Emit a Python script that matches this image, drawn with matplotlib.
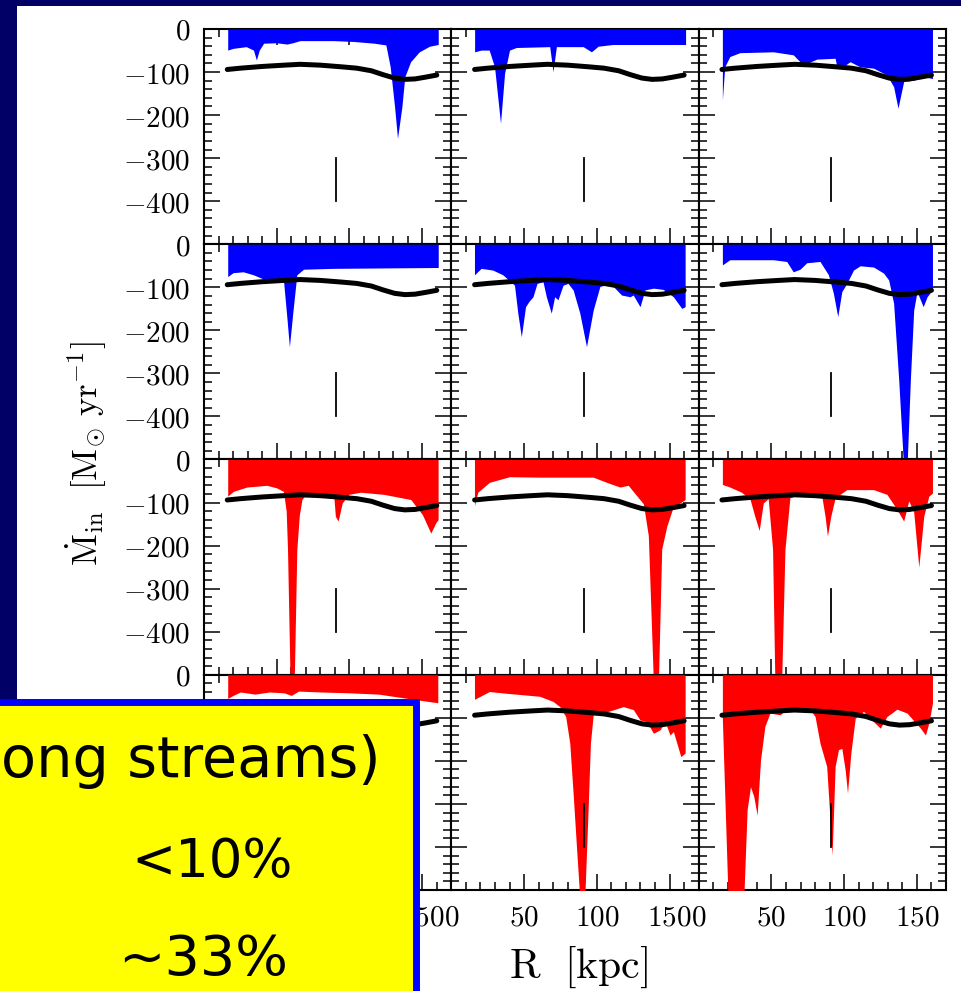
import matplotlib.pyplot as plt
from matplotlib.patches import Rectangle
from matplotlib.ticker import MultipleLocator, FuncFormatter

plt.rcParams["mathtext.fontset"] = "cm"

# =========================
# Inflow rate profiles, M_dot_in [Msun/yr] vs R [kpc]
# =========================
# mean profile shared by every panel
r_mean = [16, 25, 40, 55, 66, 80, 95, 105, 115, 123, 131, 138, 145, 152, 160]
m_mean = [-94, -91, -87, -84, -82, -84, -88, -91, -97, -106, -114, -117, -116, -112, -107]

r_vir_mark = 91  # short vertical marker

# row 1
r11 = [16.3, 20, 29, 34, 36, 38, 41, 50, 57, 61, 66, 89, 103, 117, 125, 128, 131, 133, 136, 138, 142, 148, 155, 161]
m11 = [-49, -45, -41, -49, -72, -49, -33, -32, -35, -32, -27, -27, -29, -33, -37, -88, -181, -254, -181, -111, -76, -53, -40, -36]
r12 = [16, 20.5, 26, 29.7, 33.8, 36.6, 40, 44.6, 67.6, 69.9, 72.2, 90.6, 96.3, 100.9, 111, 161]
m12 = [-53, -49, -49, -88, -219, -103, -49, -43, -41, -99, -41, -41, -53, -40, -36, -36]
r13 = [16.3, 17.9, 21.4, 28.3, 51.3, 65, 70.8, 74.3, 81.2, 93.8, 95, 100.7, 104.1, 111, 120.2, 129.4, 134, 137, 140.9, 147.8, 154.7, 160.7]
m13 = [-165, -88, -64, -55, -53, -60, -80, -80, -70, -68, -88, -84, -76, -88, -91, -107, -134, -184, -122, -119, -111, -115]

# row 2
r21 = [16.3, 20, 27, 34, 41, 50, 54.6, 56.9, 58.7, 61, 63.8, 68.4, 89, 161]
m21 = [-75, -66, -64, -71, -81, -79, -83, -168, -238, -160, -71, -58, -56, -54]
r22 = [15.9, 20.5, 28.5, 35.4, 43.4, 45.7, 48.1, 51, 53.3, 56.1, 58.9, 63, 65.3, 68.7, 71, 73.3, 76.8, 80.2,
       83.7, 88.3, 92.9, 97.5, 102.1, 105.5, 111.3, 117, 122.8, 125, 129.7, 133.1, 138.9, 145.7, 152.6, 158.4, 160.7]
m22 = [-71, -56, -60, -71, -95, -160, -215, -145, -133, -122, -91, -87, -122, -160, -122, -129, -95, -91,
       -106, -160, -238, -153, -98, -95, -98, -118, -122, -118, -145, -106, -102, -105, -122, -149, -145]
r23 = [16.3, 21.4, 51.3, 60.5, 65, 69.7, 74.3, 83.4, 89.2, 92.6, 95.6, 98.4, 101.8, 106.4, 111, 120.2, 127.1,
       130.6, 134, 137.5, 140.9, 143.2, 145.5, 147.8, 150.1, 154.3, 157, 160.7]
m23 = [-48, -36, -36, -40, -64, -58, -43, -40, -71, -114, -168, -110, -91, -60, -50, -53, -67,
       -83, -137, -315, -520, -520, -315, -153, -110, -145, -122, -106]

# row 3
r31 = [16.3, 20.2, 29.4, 43.2, 50, 54.6, 56.5, 57.4, 59.2, 62, 63.8, 65.5, 67.3, 70.8, 89.2, 90.3, 92.2, 95, 99.5, 107.6,
       123.7, 142.1, 150.1, 155.9, 159.3, 160.9]
m31 = [-85, -74, -64, -60, -66, -74, -120, -209, -520, -520, -209, -130, -93, -78, -85, -132, -143, -101, -81, -76,
       -81, -93, -128, -171, -147, -140]
r32 = [15.9, 18.2, 26.2, 40, 60.7, 97.5, 106.7, 115.9, 121.6, 127.4, 132, 135.4, 138.9, 142.3, 144.6, 148.1,
       152.6, 157.2, 160.7]
m32 = [-107, -76, -53, -40, -41, -41, -53, -64, -60, -84, -103, -177, -520, -520, -208, -155, -109, -101, -93]
r33 = [16.3, 21.4, 29.4, 35.2, 38.6, 41.6, 44.4, 47.8, 50.8, 52.4, 57, 59.3, 62.7, 69.7, 84.6, 86.9, 88.5, 90.8,
       93.8, 101.8, 120.2, 129.4, 136.3, 140.9, 144.4, 147.8, 151.3, 154.7, 158.2, 160.7]
m33 = [-58, -64, -76, -91, -132, -165, -101, -91, -209, -520, -520, -209, -89, -81, -85, -132, -178, -132,
       -89, -70, -70, -81, -116, -143, -96, -122, -250, -132, -85, -78]

# row 4
r41 = [16.3, 20, 25, 35, 45, 55, 60, 65, 80, 100, 120, 140, 150, 160.7]
m41 = [-55, -48, -40, -45, -40, -42, -48, -38, -40, -42, -45, -55, -60, -65]
r42 = [15.9, 21.6, 26.2, 37.7, 60.7, 69.9, 74.5, 78.6, 81.4, 83.7, 86, 88.3, 91.7, 94, 95.6, 97.5, 104.4,
       118.2, 125.1, 129.7, 134.3, 138.9, 143.4, 146.9, 150.3, 152.6, 155, 157.7, 160.7]
m42 = [-57, -47, -39, -43, -50, -62, -74, -97, -159, -275, -399, -520, -520, -314, -159, -93, -89,
       -74, -81, -105, -109, -136, -128, -109, -140, -132, -159, -190, -182]
r43 = [16.3, 17.9, 20.2, 31, 33.3, 35.6, 37.9, 40.2, 42.5, 45.5, 49, 55.9, 60.5, 76.6, 80, 83.4, 88, 90.3,
       91.7, 93.8, 96.1, 98.4, 100.7, 102.3, 104.6, 107.6, 113.3, 120.2, 124.8, 129.4, 136.3, 143.2, 152.4,
       155.9, 158.2, 160.7]
m43 = [-105, -275, -520, -520, -314, -260, -283, -326, -198, -120, -89, -93, -81, -81, -97, -159, -213, -337,
       -419, -213, -174, -171, -221, -275, -182, -101, -85, -109, -124, -97, -80, -89, -124,
       -140, -112, -66]

BLUE = "#0000ff"
RED = "#ff0000"
panels = [
    [(r11, m11, BLUE), (r12, m12, BLUE), (r13, m13, BLUE)],
    [(r21, m21, BLUE), (r22, m22, BLUE), (r23, m23, BLUE)],
    [(r31, m31, RED), (r32, m32, RED), (r33, m33, RED)],
    [(r41, m41, RED), (r42, m42, RED), (r43, m43, RED)],
]

# =========================
# Figure
# =========================
W, H = 962, 991
fig = plt.figure(figsize=(W / 100, H / 100), dpi=100, facecolor="#000066")
fig.add_artist(Rectangle((17 / W, -0.05), 1.1, 1 - 6 / H + 0.05, transform=fig.transFigure,
                         facecolor="white", edgecolor="none", zorder=-10))

gs = fig.add_gridspec(4, 3, left=204 / W, right=946 / W, top=1 - 29 / H, bottom=1 - 890 / H,
                      wspace=0, hspace=0)

yfmt = FuncFormatter(lambda v, p: "" if v < -450 else f"${v:.0f}$")
xfmt = FuncFormatter(lambda v, p: f"${v:.0f}$")

for i in range(4):
    for j in range(3):
        r, m, c = panels[i][j]
        ax = fig.add_subplot(gs[i, j])
        ax.fill_between(r, m, 0, color=c, lw=0, zorder=3)
        ax.plot(r_mean, m_mean, color="k", lw=3.6, zorder=4, solid_capstyle="round")
        ax.plot([r_vir_mark, r_vir_mark], [-300, -400], color="k", lw=1.3, zorder=5)

        ax.set_xlim(0, 170)
        ax.set_ylim(-500, 0)
        ax.xaxis.set_major_locator(MultipleLocator(50))
        ax.xaxis.set_minor_locator(MultipleLocator(10))
        ax.yaxis.set_major_locator(MultipleLocator(100))
        ax.yaxis.set_minor_locator(MultipleLocator(20))
        ax.xaxis.set_major_formatter(xfmt)
        ax.yaxis.set_major_formatter(yfmt)

        ax.tick_params(which="both", direction="in", top=True, right=True, width=1.1,
                       labelsize=21, pad=10,
                       labelleft=(j == 0), labelbottom=(i == 3))
        ax.tick_params(which="major", length=11.5)
        ax.tick_params(which="minor", length=5.8)
        for s in ax.spines.values():
            s.set_linewidth(1.5)

fig.text(86 / W, 1 - 454 / H, r"$\dot{\rm M}_{\rm in}\ \ [{\rm M}_{\odot}\ {\rm yr}^{-1}]$",
         rotation=90, ha="center", va="center", fontsize=25)
fig.text(578 / W, 1 - 967 / H, r"$\rm R\ \ [kpc]$", ha="center", va="center", fontsize=30)

# annotation box
fig.add_artist(Rectangle((-20 / W, -20 / H), 436 / W, (H - 701.5 + 20) / H, transform=fig.transFigure,
                         facecolor="#ffff00", edgecolor="#0000ff", lw=5, zorder=10))
box_font = dict(family="DejaVu Sans", color="black", zorder=11, va="baseline")
fig.text(381 / W, 1 - 777 / H, "ong streams)", ha="right", fontsize=41.3, **box_font)
fig.text(212 / W, 1 - 877 / H, "<10%", ha="center", fontsize=38, **box_font)
fig.text(203 / W, 1 - 975 / H, "~33%", ha="center", fontsize=40, **box_font)
fig.text(4 / W, 1 - 975 / H, ")", ha="right", fontsize=40, **box_font)

fig.savefig("out.png", dpi=100, facecolor=fig.get_facecolor())
